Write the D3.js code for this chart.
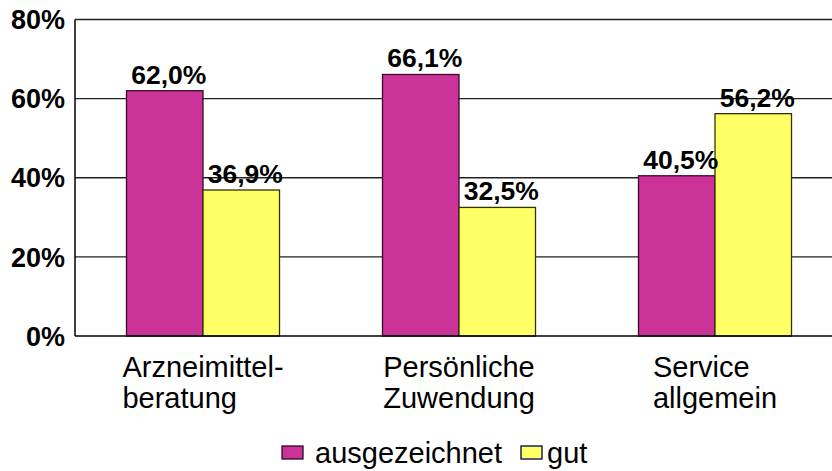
<!DOCTYPE html>
<html>
<head>
<meta charset="utf-8">
<script src="https://cdn.jsdelivr.net/npm/d3@7"></script>
<style>
  html, body { margin: 0; padding: 0; background: #fff; }
  svg { display: block; font-family: "Liberation Sans", Arial, sans-serif; }
</style>
</head>
<body>
<svg id="chart" width="832" height="471"></svg>
<script>
const categories = [["Arzneimittel-", "beratung"], ["Persönliche", "Zuwendung"], ["Service", "allgemein"]];
const seriesNames = ["ausgezeichnet", "gut"];
const ausgezeichnet = [62.0, 66.1, 40.5];
const gut = [36.9, 32.5, 56.2];
const tickValues = [0, 20, 40, 60, 80];
const colors = ["#cc3399", "#ffff66"];

const seriesValues = [ausgezeichnet, gut];
const svg = d3.select("#chart");

const plotLeft = 75, plotTop = 19.5, plotBottom = 336, bandW = 256;
const catKeys = categories.map(c => c.join(" "));
const x0 = d3.scaleBand().domain(catKeys).range([plotLeft, plotLeft + bandW * catKeys.length]).paddingInner(0).paddingOuter(0);
const x1 = d3.scaleBand().domain(seriesNames).range([0, x0.bandwidth()]).paddingInner(0).paddingOuter(0.673);
const y = d3.scaleLinear().domain([0, 80]).range([plotBottom, plotTop]);

// gridlines
svg.append("g").selectAll("line").data(tickValues.filter(v => v > 0)).join("line")
  .attr("x1", plotLeft).attr("x2", 832)
  .attr("y1", d => y(d)).attr("y2", d => y(d))
  .attr("stroke", "#222").attr("stroke-width", 1.3);

// y tick labels
svg.append("g").selectAll("text").data(tickValues).join("text")
  .attr("x", 65).attr("y", d => y(d))
  .attr("dy", "0.36em")
  .attr("text-anchor", "end")
  .attr("font-weight", "bold").attr("font-size", 27)
  .attr("fill", "#000")
  .text(d => d + "%");

// bars
const data = [];
catKeys.forEach((c, i) => seriesNames.forEach((s, j) => data.push({c, s, v: seriesValues[j][i], j})));

svg.append("g").selectAll("rect").data(data).join("rect")
  .attr("x", d => x0(d.c) + x1(d.s))
  .attr("y", d => y(d.v))
  .attr("width", x1.bandwidth())
  .attr("height", d => y(0) - y(d.v))
  .attr("fill", d => colors[d.j])
  .attr("stroke", d => d.j === 0 ? "#3a0a2a" : "#333300")
  .attr("stroke-width", 1.3);

// value labels
svg.append("g").selectAll("text").data(data).join("text")
  .attr("x", d => x0(d.c) + x1(d.s) + x1.bandwidth() / 2 + 4)
  .attr("y", d => y(d.v) - 7)
  .attr("text-anchor", "middle")
  .attr("font-weight", "bold").attr("font-size", 26.5)
  .attr("fill", "#000")
  .text(d => d.v.toFixed(1).replace(".", ",") + "%");

// axes lines
svg.append("line").attr("x1", plotLeft).attr("x2", plotLeft).attr("y1", plotTop).attr("y2", plotBottom)
  .attr("stroke", "#000").attr("stroke-width", 1.5);
svg.append("line").attr("x1", plotLeft).attr("x2", 832).attr("y1", plotBottom).attr("y2", plotBottom)
  .attr("stroke", "#000").attr("stroke-width", 1.5);

// category labels (left-aligned block, centered on band)
categories.forEach((lines, i) => {
  const g = svg.append("g");
  const texts = lines.map((t, k) => g.append("text")
    .attr("y", 377 + k * 31)
    .attr("font-size", 29).attr("fill", "#000").text(t));
  const w = d3.max(texts, t => t.node().getComputedTextLength());
  const cx = x0(catKeys[i]) + x0.bandwidth() / 2;
  texts.forEach(t => t.attr("x", cx - w / 2));
});

// legend
const legend = svg.append("g");
const legendX = [282, 521];
seriesNames.forEach((s, j) => {
  legend.append("rect").attr("x", legendX[j]).attr("y", 446)
    .attr("width", 21).attr("height", 13)
    .attr("fill", colors[j]).attr("stroke", j === 0 ? "#2a0a20" : "#000050").attr("stroke-width", 1.3);
  legend.append("text").attr("x", legendX[j] + (j === 0 ? 33 : 26)).attr("y", 463)
    .attr("font-size", 29).attr("fill", "#000").text(s);
});
</script>
</body>
</html>
